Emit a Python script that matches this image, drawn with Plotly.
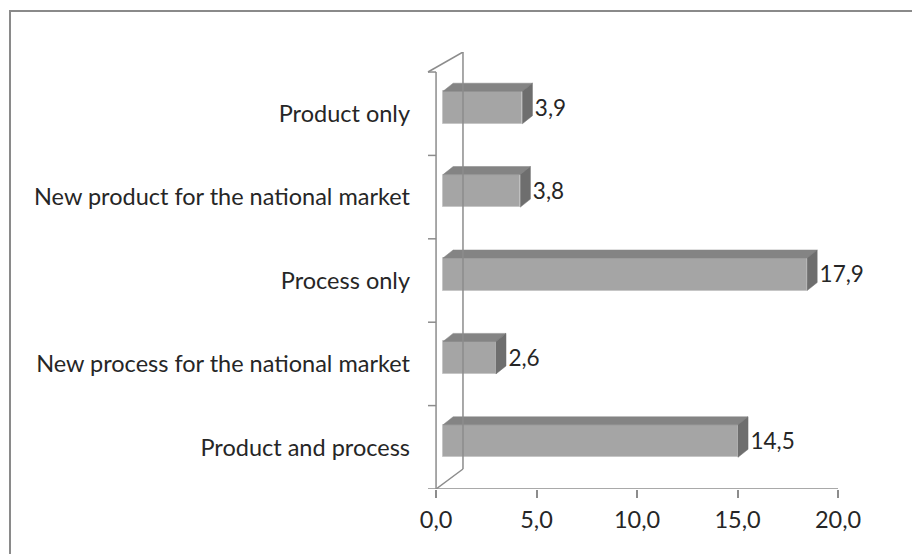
import plotly.graph_objects as go

# Innovation type shares (%)
categories = [
    "Product and process",
    "New process for the national market",
    "Process only",
    "New product for the national market",
    "Product only",
]
values = [14.5, 2.6, 17.9, 3.8, 3.9]
x_ticks = [0, 5, 10, 15, 20]

# figure geometry (pixels)
W, H = 912, 554
ML, MR, MT, MB = 426, 74, 52, 65
XR = (-0.5, 20.0)
YR = (-0.5, 4.74)
PW, PH = W - ML - MR, H - MT - MB

# pseudo-3D styling
FRONT = "#a5a5a5"
TOP = "#848484"
SIDE = "#6e6e6e"
AXIS = "#8c8c8c"
TXT = "#262626"
FONT = "Lato"
CAT_SIZE = 23.5
VAL_SIZE = 22.5
BAR_X0 = 0.35       # front face of the bars sits slightly into the depth
BAR_SCALE = 1.012
BAR_LIFT = 0.075
BAR_HALF = 0.195
DX, DY = 0.5, 0.096  # bar depth projection
WALL_DX, WALL_DY = 1.34, 0.24  # back wall projection

fig = go.Figure()

ys = [i + BAR_LIFT for i in range(len(values))]
lens = [v * BAR_SCALE for v in values]

# front faces
fig.add_trace(go.Bar(
    y=ys, x=lens, base=[BAR_X0] * len(values), orientation="h",
    width=2 * BAR_HALF, marker=dict(color=FRONT, line=dict(color="#c6c6c6", width=1)),
    hoverinfo="skip", showlegend=False,
))

# top and side faces
for y, L in zip(ys, lens):
    x0, x1 = BAR_X0, BAR_X0 + L
    yb, yt = y - BAR_HALF, y + BAR_HALF
    fig.add_trace(go.Scatter(
        x=[x0, x1, x1 + DX, x0 + DX, x0], y=[yt, yt, yt + DY, yt + DY, yt],
        fill="toself", fillcolor=TOP, mode="lines", line=dict(color=TOP, width=0.5),
        hoverinfo="skip", showlegend=False,
    ))
    fig.add_trace(go.Scatter(
        x=[x1, x1 + DX, x1 + DX, x1, x1], y=[yb, yb + DY, yt + DY, yt, yb],
        fill="toself", fillcolor=SIDE, mode="lines", line=dict(color=SIDE, width=0.5),
        hoverinfo="skip", showlegend=False,
    ))

# value labels
fig.add_trace(go.Scatter(
    x=[BAR_X0 + L + DX + 0.12 for L in lens], y=[y - 0.03 for y in ys],
    text=[f"{v:.1f}".replace(".", ",") for v in values],
    mode="text", textposition="middle right",
    textfont=dict(family=FONT, size=VAL_SIZE, color=TXT),
    cliponaxis=False, hoverinfo="skip", showlegend=False,
))

shapes = []
line = dict(color=AXIS, width=1.5)
# front vertical axis and its tick marks
shapes.append(dict(type="line", xref="x", yref="y", x0=0, x1=0, y0=-0.5, y1=4.5, line=line))
for k in range(len(categories) + 1):
    yk = k - 0.5
    shapes.append(dict(type="line", xref="x", yref="y", x0=-0.4, x1=0, y0=yk, y1=yk, line=line))
# back wall
shapes.append(dict(type="line", xref="x", yref="y", x0=WALL_DX, x1=WALL_DX,
                   y0=-0.5 + WALL_DY, y1=4.5 + WALL_DY, line=line))
shapes.append(dict(type="line", xref="x", yref="y", x0=-0.4, x1=WALL_DX,
                   y0=4.5, y1=4.5 + WALL_DY, line=line))
shapes.append(dict(type="line", xref="x", yref="y", x0=0, x1=WALL_DX,
                   y0=-0.5, y1=-0.5 + WALL_DY, line=line))
# horizontal axis line
shapes.append(dict(type="line", xref="x", yref="y", x0=0, x1=20, y0=-0.5, y1=-0.5, line=line))

# outer chart border
def px_to_paper_x(px):
    return (px - ML) / PW

def px_to_paper_y(py):
    return (H - MB - py) / PH

shapes.append(dict(type="rect", xref="paper", yref="paper",
                   x0=px_to_paper_x(10), x1=px_to_paper_x(W + 10),
                   y0=px_to_paper_y(H + 10), y1=px_to_paper_y(11),
                   line=dict(color="#8a8a8a", width=2), fillcolor="rgba(0,0,0,0)", layer="below"))

fig.update_layout(
    width=W, height=H,
    margin=dict(l=ML, r=MR, t=MT, b=MB, pad=0),
    paper_bgcolor="white", plot_bgcolor="white",
    separators=",.",
    bargap=0, barmode="overlay",
    shapes=shapes,
    xaxis=dict(range=list(XR), tickvals=x_ticks, tickformat=".1f",
               ticks="outside", ticklen=8, tickwidth=1.5, tickcolor=AXIS,
               showline=False, showgrid=False, zeroline=False,
               ticklabelstandoff=2,
               tickfont=dict(family=FONT, size=CAT_SIZE, color=TXT)),
    yaxis=dict(range=list(YR), tickvals=list(range(len(categories))), ticktext=categories,
               ticks="", showline=False, showgrid=False, zeroline=False,
               ticklabelstandoff=15,
               tickfont=dict(family=FONT, size=CAT_SIZE, color=TXT)),
)

fig.write_html("out.html")
